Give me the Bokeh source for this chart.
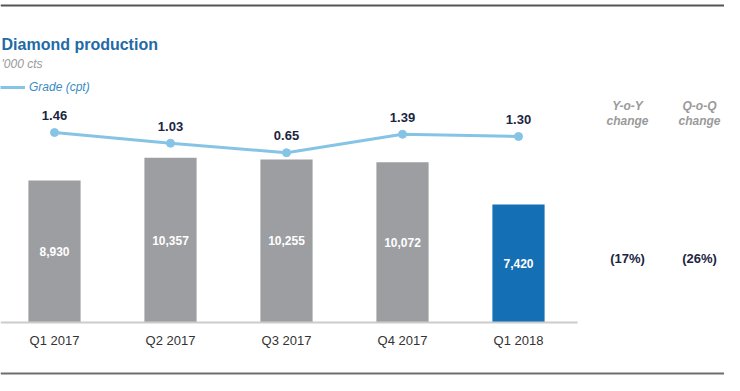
from bokeh.plotting import figure
from bokeh.models import Range1d, FixedTicker, Label, Span, ColumnDataSource
from bokeh.core.properties import value
from bokeh.embed import file_html
from bokeh.resources import INLINE

# ---- data ----
quarters = ["Q1 2017", "Q2 2017", "Q3 2017", "Q4 2017", "Q1 2018"]
production = [8930, 10357, 10255, 10072, 7420]        # '000 cts
grade = [1.46, 1.03, 0.65, 1.39, 1.30]                 # cpt
bar_colors = ["#9d9ea2", "#9d9ea2", "#9d9ea2", "#9d9ea2", "#156fb5"]
change_heads = ["Y-o-Y", "Q-o-Q"]
change_vals = ["(17%)", "(26%)"]

# ---- layout helpers (canvas pixels -> data) ----
W, H = 724, 375
STEP = 116.0          # px between bar centres
FIRST = 54.0          # px of first bar centre
PXY = 0.0159          # px per '000 ct
BASE = 322            # baseline row (px from top)
G0 = 168.5            # grade-0 row (px from top)
PXG = 25.0            # px per cpt

def dx(px):
    return (px - FIRST) / STEP

def dy(px):
    return (BASE - px) / PXY

FONT = "Liberation Sans"

p = figure(width=W, height=H, output_backend="svg", toolbar_location=None,
           x_range=Range1d(dx(0), dx(W)), y_range=Range1d(dy(H), dy(0)),
           y_axis_location=None, min_border=0)
p.extra_y_ranges = {"grade": Range1d((G0 - H) / PXG, G0 / PXG)}
p.grid.visible = False
p.outline_line_color = None
p.background_fill_color = "white"

idx = list(range(len(quarters)))
src = ColumnDataSource(dict(
    x=idx, q=quarters, prod=production, half=[v / 2 for v in production],
    plab=[f"{v:,}" for v in production], grade=grade,
    glab=[f"{g:.2f}" for g in grade], color=bar_colors))

# bars
p.vbar(x="x", top="prod", bottom=0, width=0.45, fill_color="color",
       line_color=None, source=src)
p.text(x="x", y="half", text="plab", source=src, text_color="white",
       text_font=value(FONT), text_font_style="bold", text_font_size="12px",
       text_align="center", text_baseline="middle")

# grade line
p.line(x="x", y="grade", source=src, y_range_name="grade", line_color="#86c4e6",
       line_width=3, legend_label="Grade (cpt)")
p.scatter(x="x", y="grade", source=src, y_range_name="grade", size=8,
          fill_color="#86c4e6", line_color="#86c4e6")
p.text(x="x", y="grade", text="glab", source=src, y_range_name="grade",
       y_offset=-17, text_color="#1b2542", text_font=value(FONT),
       text_font_style="bold", text_font_size="13px",
       text_align="center", text_baseline="middle")

# legend
lg = p.legend[0]
lg.location = (0, 280)
lg.padding = 0
lg.margin = 0
lg.spacing = 0
lg.glyph_width = 25
lg.glyph_height = 16
lg.label_height = 16
lg.label_standoff = 4
lg.label_text_font = FONT
lg.label_text_font_style = "italic"
lg.label_text_font_size = "12px"
lg.label_text_color = "#3a8dc2"
lg.background_fill_alpha = 0
lg.border_line_color = None

# x axis on the baseline
ax = p.xaxis[0]
ax.fixed_location = 0
ax.bounds = (dx(0), dx(577))
ax.ticker = FixedTicker(ticks=idx)
ax.major_label_overrides = {i: q for i, q in enumerate(quarters)}
ax.axis_line_color = "#cccccc"
ax.axis_line_width = 2
ax.major_tick_line_color = None
ax.minor_tick_line_color = None
ax.major_tick_out = 0
ax.major_label_standoff = 10
ax.major_label_text_font = FONT
ax.major_label_text_font_size = "13px"
ax.major_label_text_color = "#333333"

# title texts
p.add_layout(Label(x=dx(1), y=dy(44), text="Diamond production", text_font=FONT,
                   text_font_style="bold", text_font_size="16px", text_color="#236aa6",
                   text_baseline="middle"))
p.add_layout(Label(x=dx(1), y=dy(63), text="'000 cts", text_font=FONT,
                   text_font_style="italic", text_font_size="12px", text_color="#9a9a9a",
                   text_baseline="middle"))

# change columns
col_x = [dx(627), dx(699)]
for cx, head, val in zip(col_x, change_heads, change_vals):
    p.add_layout(Label(x=cx, y=dy(105), text=head, text_font=FONT,
                       text_font_style="bold italic", text_font_size="12px",
                       text_color="#9a9a9a", text_align="center", text_baseline="middle"))
    p.add_layout(Label(x=cx, y=dy(120), text="change", text_font=FONT,
                       text_font_style="bold italic", text_font_size="12px",
                       text_color="#9a9a9a", text_align="center", text_baseline="middle"))
    p.add_layout(Label(x=cx, y=dy(258), text=val, text_font=FONT,
                       text_font_style="bold", text_font_size="13px",
                       text_color="#1b2542", text_align="center", text_baseline="middle"))

# frame rules
p.add_layout(Span(location=dy(5), dimension="width", line_color="#555555", line_width=2))
p.add_layout(Span(location=dy(373), dimension="width", line_color="#6e6e6e", line_width=2))

open("out.html", "w").write(file_html(p, INLINE))
